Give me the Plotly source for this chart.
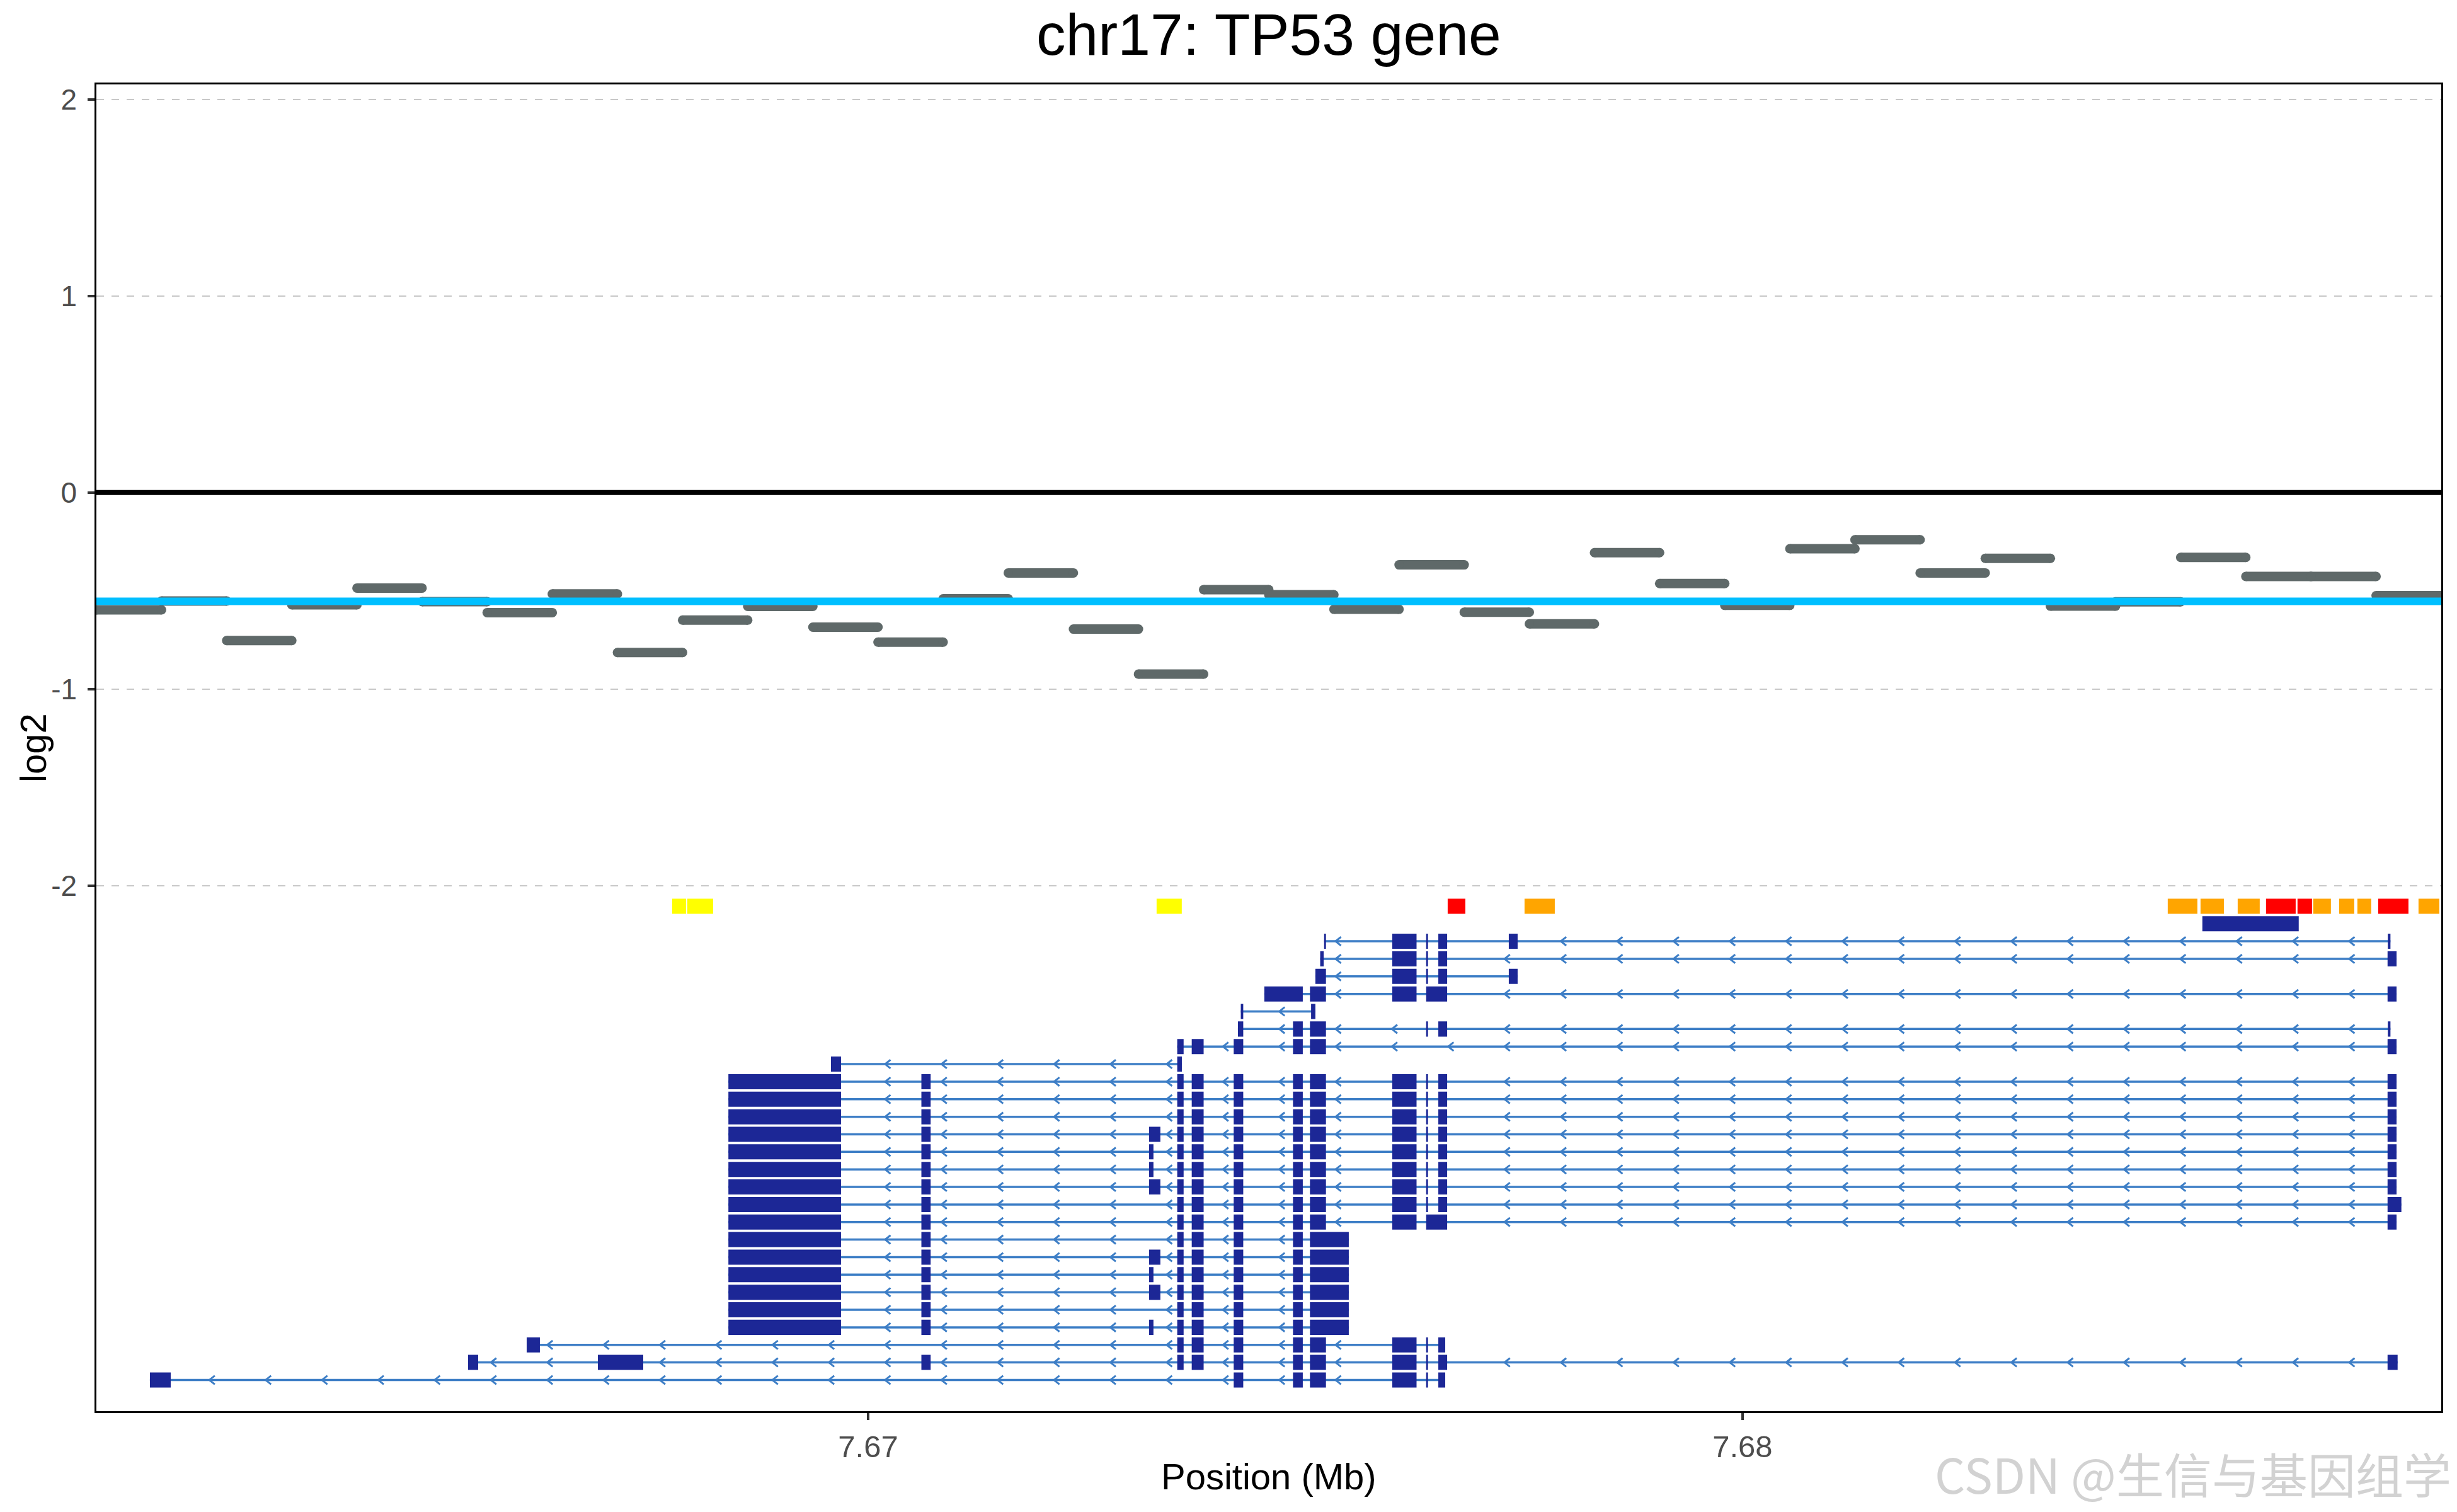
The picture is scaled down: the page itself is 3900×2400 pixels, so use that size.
import numpy as np
import plotly.graph_objects as go

# ---------------- copy-number segments (bp, log2) ----------------
seg_start = [7661174, 7661919, 7662664, 7663409, 7664154, 7664899, 7665643, 7666388,
             7667133, 7667878, 7668623, 7669368, 7670113, 7670858, 7671603, 7672348,
             7673092, 7673837, 7674582, 7675327, 7676072, 7676817, 7677562, 7678307,
             7679052, 7679797, 7680541, 7681286, 7682031, 7682776, 7683521, 7684266,
             7685011, 7685756, 7686501, 7687246]
seg_end = [7661919, 7662664, 7663409, 7664154, 7664899, 7665643, 7666388, 7667133,
           7667878, 7668623, 7669368, 7670113, 7670858, 7671603, 7672348, 7673092,
           7673837, 7674582, 7675327, 7676072, 7676817, 7677562, 7678307, 7679052,
           7679797, 7680541, 7681286, 7682031, 7682776, 7683521, 7684266, 7685011,
           7685756, 7686501, 7687246, 7687991]
seg_log2 = [-0.597, -0.552, -0.753, -0.571, -0.486, -0.555, -0.611, -0.516,
            -0.814, -0.649, -0.579, -0.685, -0.761, -0.541, -0.409, -0.695,
            -0.924, -0.494, -0.520, -0.594, -0.368, -0.609, -0.668, -0.306,
            -0.463, -0.574, -0.286, -0.240, -0.409, -0.335, -0.578, -0.556,
            -0.330, -0.427, -0.427, -0.525]

# ---------------- variant boxes (bp) ----------------
var_start = [7667759, 7667932, 7673299, 7676628, 7677507, 7684863, 7685238, 7685663,
             7685987, 7686347, 7686527, 7686823, 7687032, 7687270, 7687731]
var_end = [7667917, 7668227, 7673587, 7676830, 7677853, 7685202, 7685505, 7685915,
           7686326, 7686513, 7686729, 7686996, 7687190, 7687616, 7687969]
var_class = ["yellow", "yellow", "yellow", "red", "orange", "orange", "orange", "orange",
             "red", "red", "orange", "orange", "orange", "red", "orange"]

# ---------------- extra feature box ----------------
feat_start = [7685259]
feat_end = [7686361]

# ---------------- TP53 exons (bp) ----------------
E11 = (7668402, 7669690)
E10 = (7670609, 7670715)
E9B = (7673213, 7673342)
E9B_T = (7673213, 7673263)
E9 = (7673535, 7673608)
E8 = (7673701, 7673837)
E7 = (7674181, 7674290)
E6 = (7674859, 7674971)
E5 = (7675053, 7675236)
E5L = (7675053, 7675497)
E4 = (7675994, 7676272)
E3 = (7676382, 7676403)
E2 = (7676521, 7676622)
E32 = (7676382, 7676622)
E1 = (7687377, 7687480)
E1W = (7687377, 7687535)
E1T = (7687380, 7687410)

transcripts = [
    [(7675215, 7675236), E4, E3, E2, (7677327, 7677428), E1T],
    [(7675170, 7675210), E4, E3, E2, E1],
    [(7675115, 7675236), E4, E3, E2, (7677327, 7677428)],
    [(7674531, 7674971), E5, E4, E32, E1],
    [(7674262, 7674290), (7675066, 7675115)],
    [(7674229, 7674290), E6, E5, E3, E2, E1T],
    [E9, E8, E7, E6, E5, E1],
    [(7669575, 7669690), (7673535, 7673588)],
    [E11, E10, E9, E8, E7, E6, E5, E4, E3, E2, E1],
    [E11, E10, E9, E8, E7, E6, E5, E4, E3, E2, E1],
    [E11, E10, E9, E8, E7, E6, E5, E4, E3, E2, E1],
    [E11, E10, E9B, E9, E8, E7, E6, E5, E4, E3, E2, E1],
    [E11, E10, E9B_T, E9, E8, E7, E6, E5, E4, E3, E2, E1],
    [E11, E10, E9B_T, E9, E8, E7, E6, E5, E4, E3, E2, E1],
    [E11, E10, E9B, E9, E8, E7, E6, E5, E4, E3, E2, E1],
    [E11, E10, E9, E8, E7, E6, E5, E4, E3, E2, E1W],
    [E11, E10, E9, E8, E7, E6, E5, E4, E32, E1],
    [E11, E10, E9, E8, E7, E6, E5L],
    [E11, E10, E9B, E9, E8, E7, E6, E5L],
    [E11, E10, E9B_T, E9, E8, E7, E6, E5L],
    [E11, E10, E9B, E9, E8, E7, E6, E5L],
    [E11, E10, E9, E8, E7, E6, E5L],
    [E11, E10, E9B_T, E9, E8, E7, E6, E5L],
    [(7666095, 7666246), E9, E8, E7, E6, E5, E4, E3, (7676521, 7676600)],
    [(7665425, 7665540), (7666909, 7667428), E10, E9, E8, E7, E6, E5, E4, E3, E2,
     (7687377, 7687492)],
    [(7661786, 7662024), E7, E6, E5, E4, E3, (7676521, 7676600)],
]

# ---------------- layout constants ----------------
X_MIN, X_MAX = 7.661174, 7.687991
Y_MIN, Y_MAX = -4.675, 2.077
ROW0 = -2.105
ROW_STEP = 0.0893
HALF_H = 0.0385
FONT = "Liberation Sans"

EXON_COL = "#1c2796"
INTRON_COL = "#3d7ec6"
SEG_COL = "#5f6969"

L, R, T, B = 153, 25, 134, 160
W, H = 3900, 2400
PH = H - T - B


def py(px):
    return (H - B - px) / PH


def rows_y(k):
    return ROW0 - ROW_STEP * k


def rect_path(starts, ends, yc):
    xs, ys = [], []
    for s, e, y in zip(starts, ends, yc):
        x0, x1 = s / 1e6, e / 1e6
        xs += [x0, x1, x1, x0, x0, None]
        ys += [y - HALF_H, y - HALF_H, y + HALF_H, y + HALF_H, y - HALF_H, None]
    return xs, ys


fig = go.Figure()

# zero line
fig.add_trace(go.Scatter(x=[X_MIN, X_MAX], y=[0, 0], mode="lines",
                         line=dict(color="black", width=8), hoverinfo="skip"))

# segments with round caps
sx, sy, mx, my = [], [], [], []
for s, e, v in zip(seg_start, seg_end, seg_log2):
    sx += [s / 1e6, e / 1e6, None]
    sy += [v, v, None]
    mx += [s / 1e6, e / 1e6]
    my += [v, v]
fig.add_trace(go.Scatter(x=sx, y=sy, mode="lines", line=dict(color=SEG_COL, width=15),
                         hoverinfo="skip"))
fig.add_trace(go.Scatter(x=mx, y=my, mode="markers",
                         marker=dict(color=SEG_COL, size=15, line=dict(width=0)),
                         hoverinfo="skip"))

# median line
med = float(np.median(seg_log2))
fig.add_trace(go.Scatter(x=[X_MIN, X_MAX], y=[med, med], mode="lines",
                         line=dict(color="#00bfff", width=12), hoverinfo="skip"))

# variant boxes
var_colors = {"yellow": "#ffff00", "orange": "#ffa500", "red": "#ff0000"}
for cls, col in var_colors.items():
    st = [s for s, c in zip(var_start, var_class) if c == cls]
    en = [e for e, c in zip(var_end, var_class) if c == cls]
    xs, ys = rect_path(st, en, [rows_y(0)] * len(st))
    fig.add_trace(go.Scatter(x=xs, y=ys, mode="lines", fill="toself", fillcolor=col,
                             line=dict(width=0), hoverinfo="skip"))

# feature box
xs, ys = rect_path(feat_start, feat_end, [rows_y(1)] * len(feat_start))
fig.add_trace(go.Scatter(x=xs, y=ys, mode="lines", fill="toself", fillcolor=EXON_COL,
                         line=dict(width=0), hoverinfo="skip"))

# transcripts: intron lines, chevrons, exons
ix, iy = [], []
cx, cy = [], []
ex_s, ex_e, ex_y = [], [], []
grid = np.arange(7661822, 7688000, 644)
CH_DX = 62
CH_DY = 0.022
for i, tr in enumerate(transcripts):
    k = i + 2
    y = rows_y(k)
    tr = sorted(tr)
    ix += [tr[0][0] / 1e6, max(e for _, e in tr) / 1e6, None]
    iy += [y, y, None]
    for (s0, e0), (s1, e1) in zip(tr[:-1], tr[1:]):
        for g in grid:
            if e0 + 40 < g and g + CH_DX < s1 - 5:
                cx += [(g + CH_DX) / 1e6, g / 1e6, (g + CH_DX) / 1e6, None]
                cy += [y + CH_DY, y, y - CH_DY, None]
    for s, e in tr:
        ex_s.append(s)
        ex_e.append(e)
        ex_y.append(y)

fig.add_trace(go.Scatter(x=ix, y=iy, mode="lines", line=dict(color=INTRON_COL, width=3.5),
                         hoverinfo="skip"))
fig.add_trace(go.Scatter(x=cx, y=cy, mode="lines", line=dict(color=INTRON_COL, width=3),
                         hoverinfo="skip"))
xs, ys = rect_path(ex_s, ex_e, ex_y)
fig.add_trace(go.Scatter(x=xs, y=ys, mode="lines", fill="toself", fillcolor=EXON_COL,
                         line=dict(width=0), hoverinfo="skip"))

fig.update_layout(
    width=W, height=H,
    margin=dict(l=L, r=R, t=T, b=B, autoexpand=False),
    paper_bgcolor="white", plot_bgcolor="white",
    showlegend=False,
    font=dict(family=FONT, color="black"),
    xaxis=dict(range=[X_MIN, X_MAX], tickvals=[7.67, 7.68], ticktext=["7.67", "7.68"],
               ticks="outside", ticklen=11, tickwidth=3.5, tickcolor="#333333",
               tickfont=dict(size=49, color="#4d4d4d", family=FONT),
               ticklabelstandoff=0, automargin=False,
               showgrid=False, zeroline=False, showline=True, mirror=True,
               linecolor="black", linewidth=2.5),
    yaxis=dict(range=[Y_MIN, Y_MAX], tickvals=[-2, -1, 0, 1, 2],
               ticktext=["-2", "-1", "0", "1", "2"],
               ticks="outside", ticklen=11, tickwidth=3.5, tickcolor="#333333",
               tickfont=dict(size=46, color="#4d4d4d", family=FONT),
               ticklabelstandoff=8, automargin=False,
               showgrid=True, gridcolor="#c8c8c8", gridwidth=2, griddash="12px,12px",
               zeroline=False, showline=True, mirror=True,
               linecolor="black", linewidth=2.5),
    annotations=[
        dict(text="chr17: TP53 gene", x=0.5, xref="paper", y=py(55), yref="paper",
             xanchor="center", yanchor="middle", showarrow=False,
             font=dict(size=93, color="black", family=FONT)),
        dict(text="Position (Mb)", x=0.5, xref="paper", y=py(2343), yref="paper",
             xanchor="center", yanchor="middle", showarrow=False,
             font=dict(size=58, color="black", family=FONT)),
        dict(text="log2", x=(52 - L) / (W - L - R), xref="paper", y=0.5, yref="paper",
             xanchor="center", yanchor="middle", showarrow=False, textangle=-90,
             font=dict(size=58, color="black", family=FONT)),
        dict(text="CSDN @生信与基因组学", x=(3893 - L) / (W - L - R), xref="paper",
             y=py(2338), yref="paper", xanchor="right", yanchor="middle",
             showarrow=False,
             font=dict(size=76, color="#d2d2d2", family="Noto Sans CJK SC")),
    ],
)

fig.write_html("out.html", config={"displayModeBar": False},
               post_script="document.body.style.margin='0';document.body.style.padding='0';")
